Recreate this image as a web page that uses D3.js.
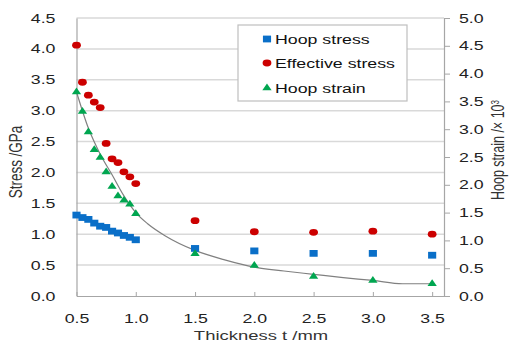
<!DOCTYPE html>
<meta charset="utf-8">
<head>
<style>
  body { margin: 0; background: #fff; }
  text { font-family: "Liberation Sans", Arial, sans-serif; }
</style>
</head>
<body>
  <script src="https://d3js.org/d3.v7.min.js"></script>
  <script>
    // thickness t (mm)
    var thickness = [0.5, 0.55, 0.6, 0.65, 0.7, 0.75, 0.8, 0.85, 0.9, 0.95, 1.0, 1.5, 2.0, 2.5, 3.0, 3.5];
    // stresses (GPa), left axis
    var hoopStress = [1.31, 1.27, 1.24, 1.18, 1.13, 1.11, 1.05, 1.02, 0.98, 0.95, 0.91, 0.77, 0.73, 0.69, 0.69, 0.66];
    var effectiveStress = [4.06, 3.46, 3.25, 3.14, 3.05, 2.47, 2.22, 2.16, 2.01, 1.93, 1.82, 1.22, 1.04, 1.03, 1.05, 1.00];
    // hoop strain (x10^3), right axis
    var hoopStrain = [3.67, 3.32, 2.95, 2.63, 2.49, 2.23, 1.97, 1.80, 1.72, 1.65, 1.48, 0.76, 0.55, 0.35, 0.28, 0.22];
    // trend line through the strain
    var trendX = [0.5, 0.6, 0.7, 0.8, 0.9, 1.0, 1.1, 1.25, 1.5, 1.75, 2.0, 2.25, 2.5, 2.75, 3.0, 3.25, 3.5];
    var trendY = [3.67, 3.02, 2.55, 2.18, 1.80, 1.50, 1.30, 1.08, 0.82, 0.65, 0.52, 0.45, 0.39, 0.33, 0.28, 0.22, 0.22];

    var xTicks = [0.5, 1.0, 1.5, 2.0, 2.5, 3.0, 3.5];
    var leftTicks = [0, 0.5, 1.0, 1.5, 2.0, 2.5, 3.0, 3.5, 4.0, 4.5];
    var rightTicks = [0, 0.5, 1.0, 1.5, 2.0, 2.5, 3.0, 3.5, 4.0, 4.5, 5.0];

    var seriesNames = ["Hoop stress", "Effective stress", "Hoop strain"];
    var seriesColors = ["#0a6fc8", "#cc0000", "#00a650"];

    var width = 509, height = 342;
    var sx = 1.42; // picture is stretched sideways
    var fmt = d3.format(".1f");

    var svg = d3.select("body")
      .append("svg")
      .attr("width", width)
      .attr("height", height);

    var x = d3.scaleLinear().domain([0.5, 3.6]).range([76.5, 444]);
    var yL = d3.scaleLinear().domain([0, 4.5]).range([296, 18]);
    var yR = d3.scaleLinear().domain([0, 5]).range([296, 18]);

    // gridlines
    svg.append("g")
      .selectAll("line")
      .data(leftTicks.slice(1))
      .enter().append("line")
      .attr("x1", x(0.5)).attr("x2", x(3.6))
      .attr("y1", function (d) { return yL(d); })
      .attr("y2", function (d) { return yL(d); })
      .style("stroke", "#d9d9d9")
      .style("stroke-width", 1.5);

    function stretchTexts(g) {
      g.selectAll("text").each(function () {
        var t = d3.select(this);
        var tx = +t.attr("x") || 0;
        t.attr("x", 0).attr("transform", "translate(" + tx + ",0) scale(" + sx + ",1)");
      });
    }

    function styleAxis(g) {
      g.select(".domain").style("stroke", "#a6a6a6").style("stroke-width", 1.2);
      g.selectAll(".tick line").style("stroke", "#a6a6a6");
      g.selectAll("text").style("font-size", "12.5px").style("fill", "#222");
    }

    var gx = svg.append("g")
      .attr("transform", "translate(0," + yL(0) + ")")
      .call(d3.axisBottom(x).tickValues(xTicks).tickFormat(fmt).tickSizeInner(-4).tickSizeOuter(0).tickPadding(18));
    styleAxis(gx);
    stretchTexts(gx);

    var gl = svg.append("g")
      .attr("transform", "translate(" + x(0.5) + ",0)")
      .call(d3.axisLeft(yL).tickValues(leftTicks).tickFormat(fmt).tickSize(0).tickPadding(21));
    styleAxis(gl);
    stretchTexts(gl);

    var gr = svg.append("g")
      .attr("transform", "translate(" + x(3.6) + ",0)")
      .call(d3.axisRight(yR).tickValues(rightTicks).tickFormat(fmt).tickSizeInner(6).tickSizeOuter(0).tickPadding(9));
    styleAxis(gr);
    stretchTexts(gr);

    // axis titles
    svg.append("text")
      .attr("transform", "translate(22,162) scale(" + sx + ",1) rotate(-90)")
      .attr("text-anchor", "middle")
      .style("font-size", "13.5px")
      .style("fill", "#333")
      .text("Stress  /GPa");

    var rt = svg.append("text")
      .attr("transform", "translate(504,150) scale(" + sx + ",1) rotate(-90)")
      .attr("text-anchor", "middle")
      .style("font-size", "12.5px")
      .style("fill", "#333");
    rt.append("tspan").text("Hoop strain  /\u00d7 10");
    rt.append("tspan").attr("dy", "-0.45em").style("font-size", "8px").text("3");

    svg.append("text")
      .attr("transform", "translate(261,340) scale(" + sx + ",1)")
      .attr("text-anchor", "middle")
      .style("font-size", "13px")
      .style("fill", "#333")
      .text("Thickness t  /mm");

    // trend line
    var trend = d3.line()
      .x(function (d, i) { return x(trendX[i]); })
      .y(function (d) { return yR(d); })
      .curve(d3.curveMonotoneX);

    svg.append("path")
      .datum(trendY)
      .attr("d", trend)
      .style("fill", "none")
      .style("stroke", "#808080")
      .style("stroke-width", 1.2);

    var sqr = d3.symbol().type(d3.symbolSquare).size(46);
    var circ = d3.symbol().type(d3.symbolCircle).size(36);
    var tri = d3.symbol().type(d3.symbolTriangle).size(26);
    var shapes = [sqr, circ, tri];
    var shapeScale = [1.2, 1.3, 1.2];

    function drawSeries(values, scale, k) {
      svg.append("g")
        .selectAll("path")
        .data(values)
        .enter().append("path")
        .attr("d", shapes[k]())
        .attr("transform", function (d, i) {
          return "translate(" + x(thickness[i]) + "," + scale(d) + ") scale(" + shapeScale[k] + ",1)";
        })
        .style("fill", seriesColors[k]);
    }

    drawSeries(hoopStress, yL, 0);
    drawSeries(effectiveStress, yL, 1);
    drawSeries(hoopStrain, yR, 2);

    // legend
    var legend = svg.append("g");
    legend.append("rect")
      .attr("x", 238).attr("y", 25)
      .attr("width", 169).attr("height", 76)
      .style("fill", "#fff")
      .style("stroke", "#bfbfbf")
      .style("stroke-width", 1.2);

    var rows = [39, 63, 88];
    seriesNames.forEach(function (name, k) {
      legend.append("path")
        .attr("d", shapes[k]())
        .attr("transform", "translate(267," + rows[k] + ") scale(" + shapeScale[k] + ",1)")
        .style("fill", seriesColors[k]);
      legend.append("text")
        .attr("transform", "translate(275," + (rows[k] + 4.5) + ") scale(" + sx + ",1)")
        .style("font-size", "12.5px")
        .style("fill", "#111")
        .text(name);
    });
  </script>
</body>
</html>
